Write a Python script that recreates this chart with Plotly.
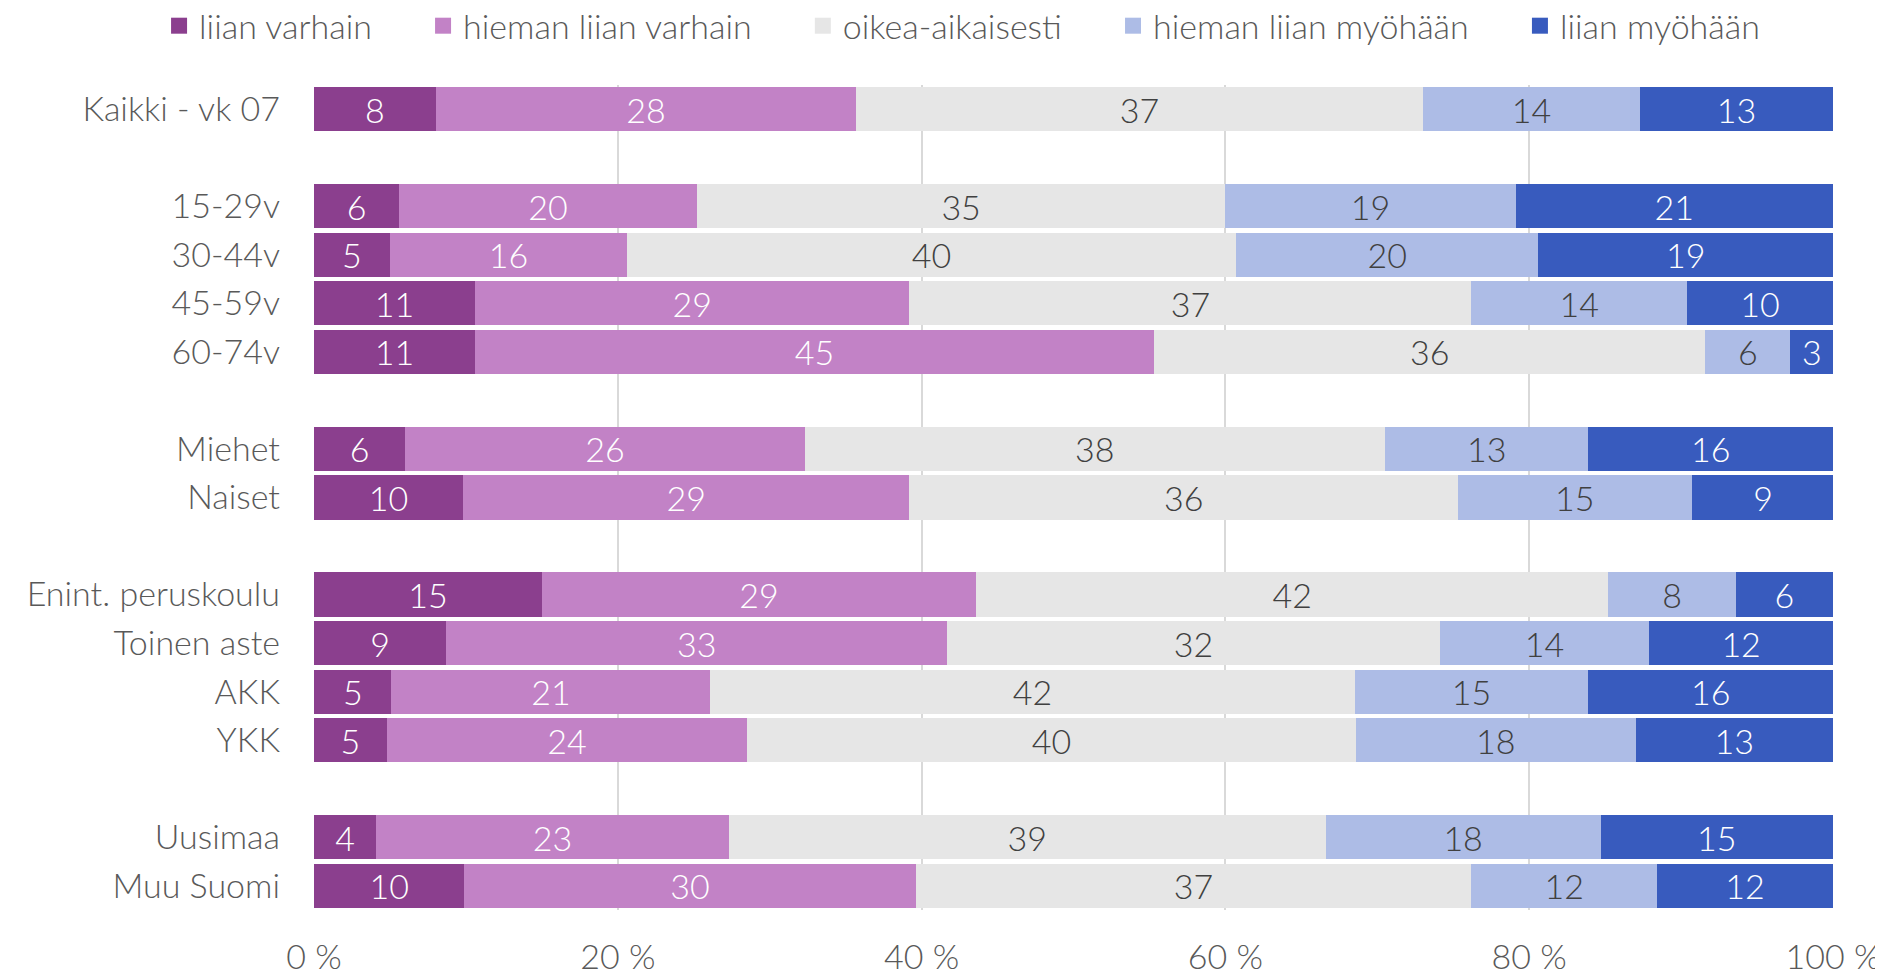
import plotly.graph_objects as go

# rows top to bottom; blank strings are the spacer rows between groups
rows = ["Kaikki - vk 07", " ",
        "15-29v", "30-44v", "45-59v", "60-74v", "  ",
        "Miehet", "Naiset", "   ",
        "Enint. peruskoulu", "Toinen aste", "AKK", "YKK", "    ",
        "Uusimaa", "Muu Suomi"]

groups = ["Kaikki - vk 07", "15-29v", "30-44v", "45-59v", "60-74v",
          "Miehet", "Naiset", "Enint. peruskoulu", "Toinen aste", "AKK", "YKK",
          "Uusimaa", "Muu Suomi"]

liian_varhain = [8.0, 5.6, 5.0, 10.6, 10.6, 6.0, 9.8, 15.0, 8.7, 5.1, 4.8, 4.1, 9.9]
hieman_liian_varhain = [27.7, 19.6, 15.6, 28.6, 44.7, 26.3, 29.4, 28.6, 33.0, 21.0, 23.7, 23.2, 29.7]
oikea_aikaisesti = [37.3, 34.8, 40.1, 37.0, 36.3, 38.2, 36.1, 41.6, 32.4, 42.4, 40.1, 39.3, 36.6]
hieman_liian_myohaan = [14.3, 19.1, 19.9, 14.2, 5.6, 13.4, 15.4, 8.4, 13.8, 15.4, 18.4, 18.1, 12.2]
liian_myohaan = [12.7, 20.9, 19.4, 9.6, 2.8, 16.1, 9.4, 6.4, 12.1, 16.1, 13.0, 15.3, 11.6]

series = [
    ("liian varhain", liian_varhain, "#8B3F8E", "white"),
    ("hieman liian varhain", hieman_liian_varhain, "#C282C6", "white"),
    ("oikea-aikaisesti", oikea_aikaisesti, "#E6E6E6", "#404040"),
    ("hieman liian myöhään", hieman_liian_myohaan, "#ADBCE6", "#404040"),
    ("liian myöhään", liian_myohaan, "#385BBE", "white"),
]

font_family = "Lato, Carlito, sans-serif"
fsize = 34
pad = "\u00a0" * 5  # extra room between legend entries

fig = go.Figure()
for name, vals, color, txtcol in series:
    fig.add_trace(go.Bar(
        y=groups, x=vals, name=name, orientation="h",
        marker=dict(color=color, line=dict(width=0)),
        texttemplate="%{x:.0f}", textposition="inside",
        insidetextanchor="middle", textangle=0, constraintext="none",
        textfont=dict(color=txtcol, size=fsize, family=font_family, weight=300),
        hovertemplate=name + ": %{x}<extra></extra>",
        showlegend=False,
    ))

# legend-only entries, to get larger square swatches
for i, (name, vals, color, txtcol) in enumerate(series):
    fig.add_trace(go.Scatter(
        x=[None], y=[None], mode="markers", name=name + (pad if i < 4 else ""),
        marker=dict(symbol="square", size=16, color=color),
        hoverinfo="skip",
    ))

fig.update_layout(
    barmode="stack",
    bargap=0.09,
    width=1875, height=967,
    paper_bgcolor="white", plot_bgcolor="white",
    margin=dict(l=306, r=50, t=77, b=65, autoexpand=False),
    font=dict(family=font_family, size=fsize, color="#595959", weight=300),
    legend=dict(
        orientation="h", x=-0.102, xanchor="left",
        y=1.0714, yanchor="middle",
        font=dict(size=fsize, color="#595959", weight=300),
        traceorder="normal", itemwidth=30,
    ),
    xaxis=dict(
        range=[0, 100], tickvals=[0, 20, 40, 60, 80, 100],
        ticktext=["0 %", "20 %", "40 %", "60 %", "80 %", "100 %"],
        showgrid=True, gridcolor="#D9D9D9", gridwidth=1.5,
        zeroline=False, showline=False, ticks="",
        ticklabelstandoff=24, automargin=False,
        tickfont=dict(size=fsize, color="#595959", weight=300),
    ),
    yaxis=dict(
        categoryorder="array", categoryarray=rows,
        range=[len(rows) - 0.5, -0.5],
        ticks="", showgrid=False, zeroline=False,
        ticklabelstandoff=33, automargin=False,
        tickfont=dict(size=fsize, color="#595959", weight=300),
    ),
)

fig.write_html("out.html")
